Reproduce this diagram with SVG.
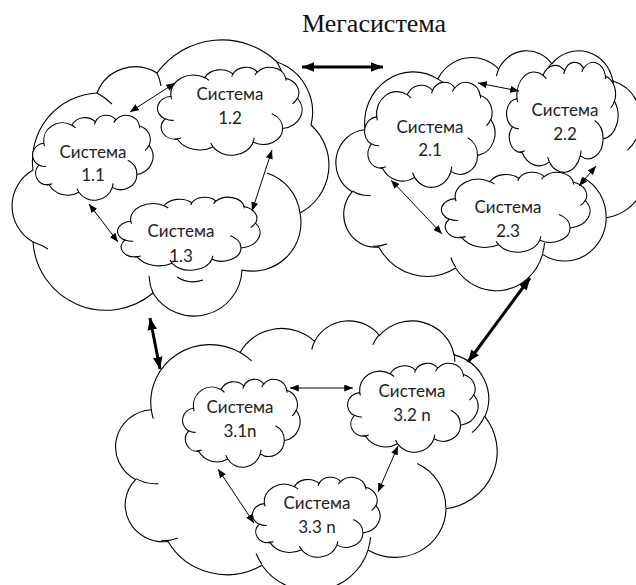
<svg xmlns="http://www.w3.org/2000/svg" xmlns:xlink="http://www.w3.org/1999/xlink" width="636" height="585" viewBox="0 0 636 585">
<style>
.cl{fill:#fff;stroke:#000;stroke-width:1.1}
.ci{fill:none;stroke:#000;stroke-width:1.1}
.t{font-family:Lato,"Open Sans",sans-serif;font-size:17px;fill:#222;text-anchor:middle}
.ttl{font-family:"Liberation Serif","Times New Roman",serif;font-size:26px;fill:#111;text-anchor:middle}
.thin{stroke:#000;stroke-width:1;fill:none;marker-start:url(#ah);marker-end:url(#ah)}
.thick{stroke:#000;stroke-width:3;fill:none;marker-start:url(#AH);marker-end:url(#AH)}
</style>
<defs>
<path id="cloudO" vector-effect="non-scaling-stroke" d="M9.03,33.26 A15.63,21.27 0 0 1 32.42,12.04 A12.35,16.82 0 0 1 51.98,7.94 A10.10,13.76 0 0 1 69.06,5.75 A11.24,15.27 0 0 1 88.70,12.91 A12.35,16.84 0 0 1 96.80,35.79 A15.68,21.34 0 0 1 86.58,69.91 A13.39,18.21 0 0 1 66.09,85.16 A15.63,21.33 0 0 1 38.14,90.84 A17.87,24.41 0 0 1 13.43,82.05 A10.09,13.70 0 0 1 4.88,59.08 A10.06,13.76 0 0 1 9.03,33.26 Z"/>
<path id="cloudI" vector-effect="non-scaling-stroke" d="M10.86,60.60 A10.06,13.76 0 0 1 5.00,58.75 M16.04,80.78 A10.09,13.70 0 0 1 11.64,81.73 M38.14,90.49 A15.63,21.33 0 0 1 36.60,86.46 M66.73,80.44 A15.63,21.33 0 0 1 66.11,84.86 M79.00,53.13 A13.39,18.21 0 0 1 86.53,69.65 M96.75,35.54 A12.35,16.84 0 0 1 93.41,41.74 M88.71,12.56 A11.24,15.27 0 0 1 88.89,15.49 M67.31,9.15 A11.24,15.27 0 0 1 69.03,5.42 M51.25,10.93 A10.10,13.76 0 0 1 52.09,7.71 M32.41,12.02 A15.63,21.27 0 0 1 35.42,15.14 M9.55,36.55 A15.63,21.27 0 0 1 9.03,33.26"/>
<marker id="ah" viewBox="0 0 10 8" refX="10" refY="4" markerWidth="9" markerHeight="7" orient="auto-start-reverse" markerUnits="userSpaceOnUse"><path d="M0,0 L10,4 L0,8 Z" fill="#000"/></marker>
<marker id="AH" viewBox="0 0 10 8" refX="10" refY="4" markerWidth="12" markerHeight="10" orient="auto-start-reverse" markerUnits="userSpaceOnUse"><path d="M0,0 L10,4 L0,8 Z" fill="#000"/></marker>
</defs>

<text class="ttl" x="374" y="32">Мегасистема</text>

<g id="mega1">
<path class="cl" d="M33,170 A68,68 0 0 1 97,93 A41,41 0 0 1 157,73 A80,80 0 0 1 277,62 A53,53 0 0 1 311,125 A54,54 0 0 1 300,213 A48.5,48.5 0 0 1 242,270 A48,48 0 0 1 153,293 A73,73 0 0 1 33,242 A41.4,41.4 0 0 1 33,170 Z"/>
<path class="ci" d="M97,93 A68,68 0 0 1 112,104 M157,73 A41,41 0 0 1 161,86 M277,62 A80,80 0 0 1 284,78 M267,173 A48.5,48.5 0 0 1 300,213 M177,277 A30,30 0 0 0 203,280 M153,293 A48,48 0 0 1 149,276 M33,242 A73,73 0 0 1 48,249"/>
</g>
<g id="mega2" transform="translate(337,50) scale(3.11,2.40)">
<use xlink:href="#cloudO" class="cl"/><use xlink:href="#cloudI" class="ci"/>
</g>
<g id="mega3" transform="translate(117,320) scale(3.80,2.70)">
<use xlink:href="#cloudO" class="cl"/><use xlink:href="#cloudI" class="ci"/>
</g>

<g id="s11">
<g transform="translate(33,115) scale(1.20,0.85)"><use xlink:href="#cloudO" class="cl"/><use xlink:href="#cloudI" class="ci"/></g>
<text class="t" x="93" y="158">Система</text><text class="t" x="93" y="181">1.1</text>
</g>
<g id="s12">
<g transform="translate(158,67) scale(1.44,0.88)"><use xlink:href="#cloudO" class="cl"/><use xlink:href="#cloudI" class="ci"/></g>
<text class="t" x="230" y="100">Система</text><text class="t" x="230" y="124">1.2</text>
</g>
<g id="s13">
<g transform="translate(118,197) scale(1.42,0.73)"><use xlink:href="#cloudO" class="cl"/><use xlink:href="#cloudI" class="ci"/></g>
<text class="t" x="181" y="237">Система</text><text class="t" x="181" y="262">1.3</text>
</g>
<g id="s21">
<g transform="translate(365,82) scale(1.30,1.05)"><use xlink:href="#cloudO" class="cl"/><use xlink:href="#cloudI" class="ci"/></g>
<text class="t" x="430" y="133">Система</text><text class="t" x="430" y="156">2.1</text>
</g>
<g id="s22">
<g transform="translate(507,62) scale(1.11,1.10)"><use xlink:href="#cloudO" class="cl"/><use xlink:href="#cloudI" class="ci"/></g>
<text class="t" x="565" y="116">Система</text><text class="t" x="565" y="140">2.2</text>
</g>
<g id="s23">
<g transform="translate(442,172) scale(1.48,0.80)"><use xlink:href="#cloudO" class="cl"/><use xlink:href="#cloudI" class="ci"/></g>
<text class="t" x="508" y="213">Система</text><text class="t" x="508" y="237">2.3</text>
</g>
<g id="s31">
<g transform="translate(183,379) scale(1.17,0.88)"><use xlink:href="#cloudO" class="cl"/><use xlink:href="#cloudI" class="ci"/></g>
<text class="t" x="240" y="413">Система</text><text class="t" x="240" y="437">3.1n</text>
</g>
<g id="s32">
<g transform="translate(348,363) scale(1.30,0.89)"><use xlink:href="#cloudO" class="cl"/><use xlink:href="#cloudI" class="ci"/></g>
<text class="t" x="412" y="397">Система</text><text class="t" x="412" y="421">3.2 n</text>
</g>
<g id="s33">
<g transform="translate(253,477) scale(1.27,0.80)"><use xlink:href="#cloudO" class="cl"/><use xlink:href="#cloudI" class="ci"/></g>
<text class="t" x="317" y="509">Система</text><text class="t" x="317" y="533">3.3 n</text>
</g>

<g id="connectors">
<line class="thin" x1="130" y1="112" x2="175" y2="83"/>
<line class="thin" x1="89" y1="204" x2="118" y2="242"/>
<line class="thin" x1="272" y1="150" x2="252" y2="211"/>
<line class="thin" x1="478" y1="83" x2="519" y2="91"/>
<line class="thin" x1="391" y1="180" x2="442" y2="234"/>
<line class="thin" x1="596" y1="166" x2="579" y2="186"/>
<line class="thin" x1="290" y1="388" x2="353" y2="388"/>
<line class="thin" x1="218" y1="469" x2="254" y2="523"/>
<line class="thin" x1="398" y1="446" x2="378" y2="492"/>
<line class="thick" x1="302" y1="67" x2="383" y2="67"/>
<line class="thick" x1="150" y1="318" x2="160" y2="369"/>
<line class="thick" x1="530" y1="278" x2="468" y2="362"/>
</g>
</svg>
